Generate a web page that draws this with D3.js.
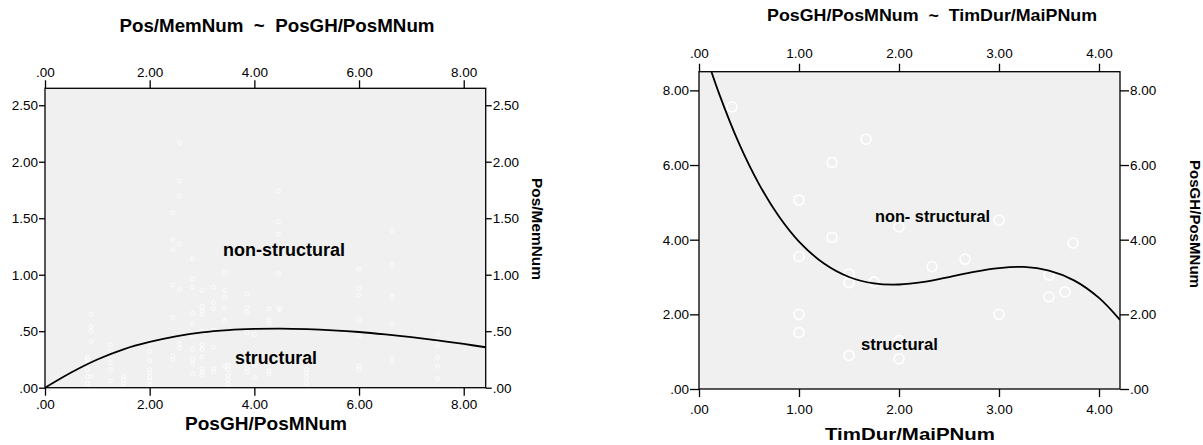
<!DOCTYPE html>
<html>
<head>
<meta charset="utf-8">
<script src="https://cdn.jsdelivr.net/npm/d3@7"></script>
<style>
  body { margin: 0; background: #fff; }
  svg text { font-family: "Liberation Sans", Arial, sans-serif; fill: #000; }
  .tick line { stroke: #000; stroke-width: 1.3; }
  .domain { display: none; }
</style>
</head>
<body>
<div id="chart"></div>
<script>
// ---- left chart data (Pos/MemNum ~ PosGH/PosMNum)
var leftXTicks = [0, 2, 4, 6, 8];
var leftYTicks = [0, 0.5, 1, 1.5, 2, 2.5];
var leftPoints = [
  [2.57,2.17],[2.57,1.83],[2.57,1.70],[2.44,1.55],[4.46,1.74],[4.46,1.47],[4.46,1.36],
  [2.44,1.31],[2.57,1.27],[2.44,1.22],[2.82,1.14],[6.63,1.39],[6.63,1.09],[6.0,1.05],
  [2.44,0.91],[2.57,0.87],[2.82,0.96],[2.82,0.89],[3.0,0.86],[3.22,0.89],[3.43,1.02],
  [3.43,0.86],[3.43,0.80],[4.46,1.01],[3.86,0.83],[2.44,0.62],[3.0,0.72],[3.0,0.68],
  [3.0,0.65],[2.82,0.66],[3.22,0.75],[3.22,0.70],[3.43,0.70],[3.86,0.71],[3.86,0.67],
  [4.28,0.70],[4.46,0.70],[2.82,0.57],[0.88,0.65],[0.88,0.54],[0.88,0.50],[0.88,0.41],
  [4.28,0.60],[4.28,0.57],[3.43,0.59],[3.86,0.49],[4.0,0.47],[3.0,0.50],[3.22,0.51],
  [2.82,0.46],[1.25,0.38],[1.25,0.32],[1.25,0.22],[1.25,0.16],[1.25,0.06],
  [0.81,0.27],[0.81,0.25],[0.81,0.22],[0.81,0.16],[0.81,0.10],[0.81,0.04],[0.88,0.10],
  [1.5,0.10],[1.5,0.07],[1.5,0.04],[1.5,0.015],
  [2.0,0.40],[2.0,0.32],[2.0,0.24],[2.0,0.16],[2.0,0.13],[2.0,0.09],[2.0,0.06],[2.0,0.02],
  [2.57,0.39],[2.57,0.35],[2.44,0.28],[2.44,0.25],[2.82,0.34],[2.82,0.25],[2.82,0.21],
  [2.82,0.12],[3.0,0.38],[3.0,0.34],[3.0,0.27],[3.0,0.17],[3.0,0.14],[3.0,0.11],
  [3.22,0.36],[3.22,0.17],[3.22,0.14],[3.43,0.19],[3.5,0.20],[3.5,0.16],[3.5,0.11],
  [3.5,0.07],[3.5,0.03],[3.86,0.17],[3.86,0.14],[4.0,0.20],[4.0,0.09],[4.28,0.15],
  [4.28,0.12],[4.49,0.69],[6.0,0.88],[6.0,0.82],[6.63,0.81],[6.0,0.60],[6.63,0.56],
  [6.0,0.46],[7.5,0.475],[7.5,0.42],[7.5,0.37],[7.5,0.27],[7.5,0.19],[7.5,0.08],
  [6.63,0.26],[6.63,0.23],[6.0,0.19],[6.0,0.16],[5.0,0.16],[5.0,0.13],[5.0,0.09],[5.0,0.04]
];
var leftCurveX = [0, 0.5, 1, 1.5, 2, 2.5, 3, 3.5, 4, 4.5, 5, 5.5, 6, 6.5, 7, 7.5, 8, 8.42];
var leftCurveY = [0, 0.135, 0.25, 0.34, 0.405, 0.455, 0.49, 0.51, 0.52, 0.523, 0.518, 0.508, 0.493, 0.472, 0.447, 0.418, 0.387, 0.358];

// ---- right chart data (PosGH/PosMNum ~ TimDur/MaiPNum)
var rightXTicks = [0, 1, 2, 3, 4];
var rightYTicks = [0, 2, 4, 6, 8];
var rightPoints = [
  [0.33,7.56],[1.67,6.69],[1.33,6.07],[1.0,5.06],[2.0,4.34],[1.33,4.06],[1.0,3.55],
  [2.33,3.28],[1.5,3.08],[1.5,2.85],[1.75,2.87],[3.0,4.52],[3.74,3.91],[2.66,3.48],
  [3.5,3.05],[3.5,2.47],[3.66,2.60],[1.0,2.0],[1.0,1.51],[1.5,0.90],[2.0,0.81],
  [2.0,1.29],[3.0,2.0]
];
var rightCurveX = [0.05, 0.2, 0.4, 0.6, 0.8, 1.0, 1.25, 1.5, 1.75, 2.0, 2.25, 2.5, 2.75, 3.0, 3.25, 3.5, 3.75, 4.0, 4.21];
var rightCurveY = [9.1, 7.92, 6.58, 5.49, 4.62, 3.95, 3.36, 3.0, 2.83, 2.8, 2.87, 3.0, 3.14, 3.24, 3.27, 3.17, 2.91, 2.44, 1.85];

var fmt = function(d){ var s = d3.format(".2f")(d); return s.indexOf("0.") == 0 ? s.slice(1) : s; };

var svg = d3.select("#chart").append("svg")
	.attr("width", 1203)
	.attr("height", 445);

// bold label with a fixed drawn width
function label(g, t) {
	var el = g.append("text")
		.attr("transform", "translate(" + t.x + "," + t.y + ")" + (t.rotate ? " rotate(" + t.rotate + ")" : ""))
		.attr("text-anchor", t.anchor || "middle")
		.attr("dy", t.dy || null)
		.attr("font-weight", "bold")
		.attr("font-size", t.size)
		.attr("xml:space", "preserve")
		.style("white-space", "pre")
		.text(t.text);
	if (t.len) el.attr("textLength", t.len).attr("lengthAdjust", "spacingAndGlyphs");
}

function drawPanel(cfg) {
	var x = d3.scaleLinear().domain(cfg.xDomain).range([cfg.left, cfg.right]);
	var y = d3.scaleLinear().domain(cfg.yDomain).range([cfg.bottom, cfg.top]);

	var g = svg.append("g");

	// plot background
	g.append("rect")
		.attr("x", cfg.left)
		.attr("y", cfg.top)
		.attr("width", cfg.right - cfg.left)
		.attr("height", cfg.bottom - cfg.top)
		.attr("fill", "#f0f0f0");

	// points
	g.selectAll("circle")
		.data(cfg.points)
		.enter().append("circle")
		.attr("cx", function(d){ return x(d[0]); })
		.attr("cy", function(d){ return y(d[1]); })
		.attr("r", cfg.r)
		.attr("fill", "none")
		.attr("stroke", "#fff")
		.attr("stroke-width", cfg.sw);

	// fitted curve
	svg.append("clipPath").attr("id", cfg.id + "-clip")
		.append("rect")
		.attr("x", cfg.left).attr("y", cfg.top)
		.attr("width", cfg.right - cfg.left).attr("height", cfg.bottom - cfg.top);

	var line = d3.line()
		.x(function(d, i){ return x(cfg.curveX[i]); })
		.y(function(d){ return y(d); })
		.curve(d3.curveCatmullRom);

	g.append("path")
		.attr("clip-path", "url(#" + cfg.id + "-clip)")
		.attr("d", line(cfg.curveY))
		.attr("fill", "none")
		.attr("stroke", "#000")
		.attr("stroke-width", 1.8);

	// frame
	g.append("rect")
		.attr("x", cfg.left)
		.attr("y", cfg.top)
		.attr("width", cfg.right - cfg.left)
		.attr("height", cfg.bottom - cfg.top)
		.attr("fill", "none")
		.attr("stroke", "#000")
		.attr("stroke-width", 1.3);

	// axes on all four sides
	g.append("g")
		.attr("transform", "translate(0," + cfg.bottom + ")")
		.call(d3.axisBottom(x).tickValues(cfg.xTicks).tickFormat(fmt).tickSize(8).tickPadding(cfg.xPadB))
		.selectAll("text").style("font-size", cfg.tickFont);
	g.append("g")
		.attr("transform", "translate(0," + cfg.top + ")")
		.call(d3.axisTop(x).tickValues(cfg.xTicks).tickFormat(fmt).tickSize(8).tickPadding(cfg.xPadT))
		.selectAll("text").style("font-size", cfg.tickFont);
	g.append("g")
		.attr("transform", "translate(" + cfg.left + ",0)")
		.call(d3.axisLeft(y).tickValues(cfg.yTicks).tickFormat(fmt).tickSize(cfg.yTick).tickPadding(1))
		.selectAll("text").style("font-size", cfg.tickFont);
	g.append("g")
		.attr("transform", "translate(" + cfg.right + ",0)")
		.call(d3.axisRight(y).tickValues(cfg.yTicks).tickFormat(fmt).tickSize(cfg.yTick).tickPadding(1))
		.selectAll("text").style("font-size", cfg.tickFont);

	cfg.labels.forEach(function(t){ label(g, t); });
}

drawPanel({
	id: "left",
	left: 45, right: 485.7, top: 88.3, bottom: 387.7,
	xDomain: [0, 8.42], yDomain: [0, 2.65],
	xTicks: leftXTicks, yTicks: leftYTicks,
	points: leftPoints, r: 2, sw: 0.8,
	curveX: leftCurveX, curveY: leftCurveY,
	tickFont: "13.5px", xPadB: 4, xPadT: 3, yTick: 6,
	labels: [
		{text: "Pos/MemNum  ~  PosGH/PosMNum", x: 277, y: 32, size: "18px", len: 315},
		{text: "PosGH/PosMNum", x: 266, y: 430, size: "18px", len: 162},
		{text: "Pos/MemNum", x: 537, y: 229, size: "15px", len: 102, rotate: 90, dy: "0.35em"},
		{text: "non-structural", x: 223, y: 256, size: "18px", len: 122, anchor: "start"},
		{text: "structural", x: 235, y: 364, size: "18px", len: 82, anchor: "start"}
	]
});

drawPanel({
	id: "right",
	left: 699, right: 1120, top: 71.7, bottom: 389,
	xDomain: [0, 4.21], yDomain: [0, 8.5],
	xTicks: rightXTicks, yTicks: rightYTicks,
	points: rightPoints, r: 5, sw: 1.6,
	curveX: rightCurveX, curveY: rightCurveY,
	tickFont: "13.5px", xPadB: 7, xPadT: 6, yTick: 9,
	labels: [
		{text: "PosGH/PosMNum  ~  TimDur/MaiPNum", x: 932, y: 21, size: "17px", len: 330},
		{text: "TimDur/MaiPNum", x: 910, y: 440, size: "17px", len: 170},
		{text: "PosGH/PosMNum", x: 1195, y: 224, size: "15px", len: 128, rotate: 90, dy: "0.35em"},
		{text: "non- structural", x: 875, y: 222, size: "16px", len: 115, anchor: "start"},
		{text: "structural", x: 861, y: 350, size: "16px", len: 77, anchor: "start"}
	]
});
</script>
</body>
</html>
